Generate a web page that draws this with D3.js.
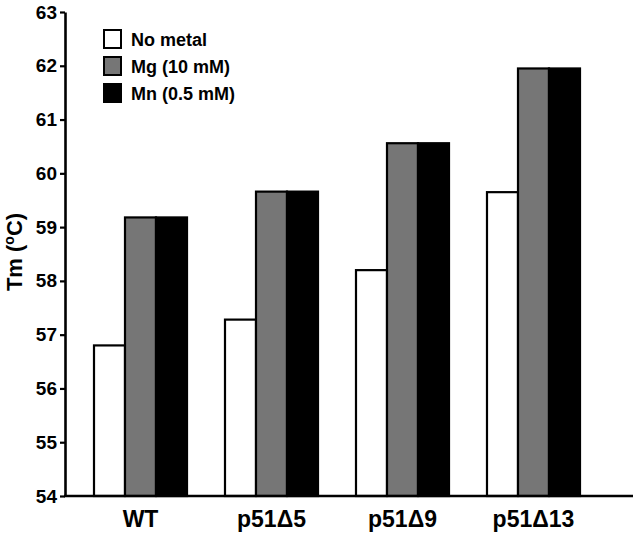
<!DOCTYPE html>
<html>
<head>
<meta charset="utf-8">
<script src="https://cdn.jsdelivr.net/npm/d3@7"></script>
<style>
  html, body { margin: 0; padding: 0; background: #fff; }
  svg { display: block; font-family: "Liberation Sans", Arial, Helvetica, sans-serif; }
</style>
</head>
<body>
<svg id="chart" width="633" height="538"></svg>
<script>
const categories = ["WT", "p51\u03945", "p51\u03949", "p51\u039413"];
const seriesNames = ["No metal", "Mg (10 mM)", "Mn (0.5 mM)"];
const noMetal = [56.8, 57.28, 58.2, 59.65];
const mg = [59.18, 59.66, 60.56, 61.95];
const mn = [59.18, 59.66, 60.56, 61.95];
const yTicks = [54, 55, 56, 57, 58, 59, 60, 61, 62, 63];
const seriesColors = ["#ffffff", "#767676", "#000000"];

const seriesValues = [noMetal, mg, mn];
const svg = d3.select("#chart");

const y = d3.scaleLinear().domain([54, 63]).range([496, 12]);
const x0 = d3.scaleBand().domain(categories).range([94, 580]).paddingInner(0.29).paddingOuter(0);
const x1 = d3.scaleBand().domain(seriesNames).range([0, x0.bandwidth()]).padding(0);

// bars
const groups = svg.append("g").selectAll("g").data(categories).join("g")
  .attr("transform", d => `translate(${x0(d)},0)`);
groups.selectAll("rect")
  .data((c, i) => seriesNames.map((s, j) => ({ s, j, v: seriesValues[j][i] })))
  .join("rect")
  .attr("x", d => x1(d.s))
  .attr("y", d => y(d.v))
  .attr("width", x1.bandwidth())
  .attr("height", d => y(54) - y(d.v))
  .attr("fill", d => seriesColors[d.j])
  .attr("stroke", "#000")
  .attr("stroke-width", 2.2);

// y axis
const yAxis = svg.append("g").attr("transform", "translate(65,0)")
  .call(d3.axisLeft(y).tickValues(yTicks).tickFormat(d3.format("d")).tickSize(5).tickSizeOuter(0).tickPadding(3));
yAxis.select(".domain").attr("stroke", "#000").attr("stroke-width", 2.6);
yAxis.selectAll(".tick line").attr("stroke", "#000").attr("stroke-width", 2.2);
yAxis.selectAll(".tick text").attr("fill", "#000").style("font-size", "19px").style("font-weight", "bold")
  .style("font-family", "'Liberation Sans', Arial, sans-serif");

// x axis baseline
const xLine = d3.scaleLinear().domain([0, 1]).range([64, 633]);
svg.append("line")
  .attr("x1", xLine(0)).attr("x2", xLine(1))
  .attr("y1", y(54)).attr("y2", y(54))
  .attr("stroke", "#000").attr("stroke-width", 2.6);

const xAxis = svg.append("g").attr("transform", `translate(0,${y(54)})`)
  .call(d3.axisBottom(x0).tickSize(0).tickPadding(15));
xAxis.select(".domain").remove();
xAxis.selectAll(".tick text").attr("fill", "#000").style("font-size", "23px").style("font-weight", "bold")
  .style("font-family", "'Liberation Sans', Arial, sans-serif");

// y title
const yt = svg.append("text")
  .attr("transform", "translate(22,252) rotate(-90)")
  .attr("text-anchor", "middle")
  .style("font-size", "22px").style("font-weight", "bold");
yt.append("tspan").text("Tm (");
yt.append("tspan").attr("baseline-shift", "super").style("font-size", "14px").text("o");
yt.append("tspan").text("C)");

// legend
const legend = svg.append("g").attr("transform", "translate(104,30)");
const li = legend.selectAll("g").data(seriesNames).join("g")
  .attr("transform", (d, i) => `translate(0,${i * 27})`);
li.append("rect").attr("width", 17).attr("height", 18)
  .attr("fill", (d, i) => seriesColors[i]).attr("stroke", "#000").attr("stroke-width", 2);
li.append("text").attr("x", 27).attr("y", 16)
  .style("font-size", "18px").style("font-weight", "bold").text(d => d);
</script>
</body>
</html>
